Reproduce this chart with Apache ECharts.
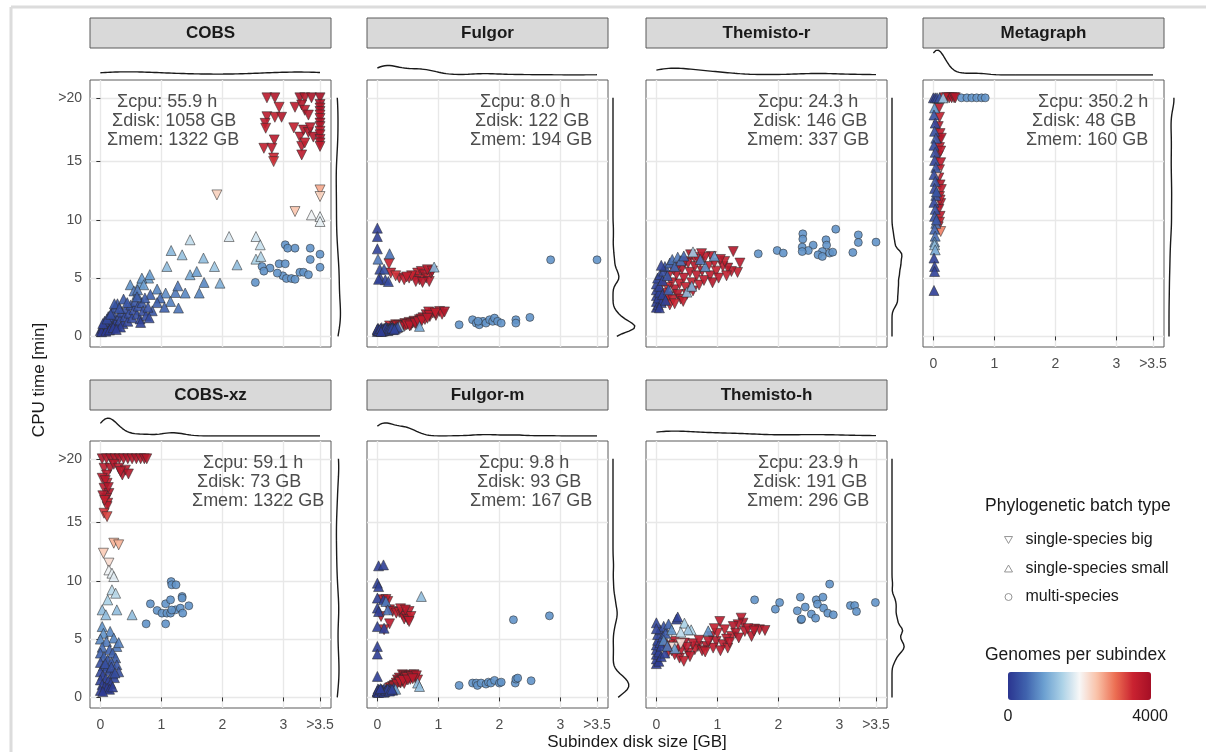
<!DOCTYPE html>
<html>
<head>
<meta charset="utf-8">
<title>Subindex disk size vs CPU time</title>
<script src="https://cdn.jsdelivr.net/npm/echarts@6.0.0/dist/echarts.min.js"></script>
<style>
  html, body { margin: 0; padding: 0; background: #fff; }
  #chart { width: 1206px; height: 752px; }
</style>
</head>
<body>
<div id="chart"></div>
<script>
// panels, in facet order
const panelNames = ['COBS', 'Fulgor', 'Themisto-r', 'Metagraph', 'COBS-xz', 'Fulgor-m', 'Themisto-h']
const cpuHours = ['55.9', '8.0', '24.3', '350.2', '59.1', '9.8', '23.9']
const diskGB = ['1058', '122', '146', '48', '73', '93', '191']
const memGB = ['1322', '194', '337', '160', '1322', '167', '296']

const shapeNames = ['single-species big', 'single-species small', 'multi-species']

const xTickValues = [0, 1, 2, 3, 3.6]
const xTickLabels = ['0', '1', '2', '3', '>3.5']
const yTickValues = [0, 5, 10, 15, 20.47]
const yTickLabels = ['0', '5', '10', '15', '>20']

// [disk GB, cpu min, genomes]
const cobsBig = [
  [2.73, 20.47, 3700], [2.86, 20.47, 3800], [3.27, 20.47, 3900], [3.35, 20.47, 3800], [3.46, 20.47, 3900], [3.6, 20.47, 4000],
  [2.93, 19.66, 3600], [2.73, 18.85, 3700], [2.86, 18.8, 3600], [2.97, 18.8, 3800], [2.70, 18.28, 3700], [2.71, 17.86, 3600],
  [2.85, 16.86, 3700], [2.68, 16.14, 3600], [2.81, 16.14, 3700], [2.84, 15.3, 3500], [2.84, 15.0, 3400],
  [3.19, 19.66, 3700], [3.30, 19.86, 3800], [3.35, 19.4, 3700], [3.41, 18.99, 3800], [3.17, 17.9, 3600], [3.27, 17.1, 3700],
  [3.33, 17.7, 3800], [3.30, 16.3, 3700], [3.35, 16.6, 3600], [3.30, 15.57, 3700], [3.41, 17.5, 3800], [3.44, 17.9, 3700],
  [3.49, 17.1, 3800], [3.6, 19.9, 3900], [3.6, 19.6, 3800], [3.6, 19.3, 3900], [3.6, 19.0, 3700], [3.6, 18.7, 3800],
  [3.6, 18.3, 3900], [3.6, 18.0, 3800], [3.6, 17.6, 3700], [3.6, 17.3, 3800], [3.6, 16.9, 3900], [3.6, 16.6, 3800],
  [3.6, 16.3, 3700], [1.91, 12.14, 2350], [3.19, 10.71, 2450], [3.6, 12.57, 2650], [3.6, 12.0, 2350]
]
const cobsSmall = [
  [3.46, 10.43, 1950], [3.6, 10.28, 1900], [3.6, 9.86, 1900], [1.47, 8.29, 1650], [2.11, 8.57, 1800], [2.55, 8.57, 1750],
  [2.62, 7.86, 1700], [2.55, 6.63, 1500], [2.63, 6.86, 1550], [2.24, 6.14, 1300], [1.69, 6.72, 1300], [1.87, 6.0, 1400],
  [1.34, 7.0, 1350], [1.16, 7.37, 1250], [1.09, 6.0, 1300], [1.47, 5.29, 1100], [1.58, 5.57, 1000], [1.96, 4.57, 1150],
  [1.70, 4.63, 800], [1.62, 3.72, 800], [1.23, 3.77, 700], [1.39, 3.72, 800], [1.27, 4.34, 700], [1.07, 3.72, 850],
  [1.15, 3.0, 750], [1.28, 2.43, 650], [0.79, 5.0, 1050], [0.65, 4.57, 1000], [0.81, 5.3, 1000], [0.68, 5.0, 950],
  [0.71, 4.43, 1000], [0.49, 4.43, 900], [0.93, 4.06, 800], [0.55, 3.9, 700], [0.60, 3.6, 650], [0.61, 4.0, 700],
  [0.82, 3.6, 500], [0.98, 3.3, 550], [0.93, 2.9, 450], [0.85, 2.2, 350], [1.05, 2.5, 500],
  [0.0, 0.5, 80], [0.03, 0.7, 100], [0.05, 0.9, 120], [0.08, 0.6, 90], [0.1, 1.0, 150], [0.12, 0.8, 110], [0.14, 1.2, 160],
  [0.16, 0.7, 100], [0.18, 1.4, 200], [0.2, 1.0, 140], [0.22, 1.6, 220], [0.25, 1.2, 170], [0.27, 0.9, 130], [0.3, 1.8, 250],
  [0.32, 1.4, 200], [0.35, 2.1, 280], [0.37, 1.1, 150], [0.4, 1.7, 230], [0.42, 2.4, 300], [0.45, 1.3, 190], [0.47, 2.0, 260],
  [0.5, 2.7, 330], [0.52, 1.6, 220], [0.55, 2.3, 290], [0.57, 3.0, 380], [0.6, 1.9, 250], [0.62, 2.6, 320], [0.65, 1.5, 200],
  [0.68, 2.9, 360], [0.7, 2.2, 280], [0.73, 3.3, 420], [0.75, 1.8, 240], [0.78, 2.5, 310], [0.8, 1.6, 230], [0.07, 1.3, 180],
  [0.13, 1.7, 230], [0.19, 2.1, 290], [0.24, 2.5, 330], [0.28, 2.8, 380], [0.33, 0.8, 110], [0.38, 3.2, 420], [0.44, 2.9, 390],
  [0.6, 3.4, 450], [0.66, 1.2, 160], [0.02, 0.4, 60], [0.09, 0.45, 70], [0.15, 0.55, 80], [0.21, 0.75, 100], [0.26, 0.6, 90],
  [0.04, 1.1, 150], [0.11, 1.5, 210], [0.17, 1.9, 260], [0.23, 2.8, 350], [0.31, 2.4, 320]
]
const cobsMulti = [
  [2.54, 4.63, 900], [2.65, 6.0, 900], [2.78, 5.86, 900], [2.68, 5.6, 900], [3.03, 7.86, 900], [3.07, 7.57, 900],
  [3.19, 7.57, 900], [2.93, 6.23, 900], [3.03, 6.23, 900], [2.99, 5.2, 900], [2.90, 5.43, 900], [3.05, 4.97, 900],
  [3.13, 4.97, 900], [3.19, 4.9, 900], [3.27, 5.5, 900], [3.33, 5.5, 900], [3.41, 5.3, 900], [3.44, 7.57, 900],
  [3.44, 6.6, 900], [3.6, 7.05, 900], [3.6, 5.93, 900]
]

const fulgorBig = [
  [0.19, 6.23, 3500], [0.22, 5.43, 3600], [0.36, 5.0, 3700], [0.44, 4.86, 3600], [0.52, 5.0, 3700], [0.61, 5.14, 3800],
  [0.66, 5.43, 3600], [0.72, 5.57, 3700], [0.77, 5.29, 3800], [0.80, 5.0, 3600], [0.85, 4.71, 3700], [0.88, 5.43, 3800],
  [0.82, 5.71, 3700], [0.69, 4.86, 3600], [0.63, 4.71, 3700], [0.74, 4.63, 3800], [0.56, 5.2, 3500], [0.48, 5.1, 3600],
  [0.3, 5.2, 3400], [0.9, 5.6, 3700],
  [0.2, 0.9, 3500], [0.3, 1.0, 3600], [0.36, 0.86, 3700], [0.45, 1.1, 3600], [0.52, 1.2, 3700], [0.6, 1.3, 3800],
  [0.69, 1.43, 3600], [0.75, 1.6, 3700], [0.8, 1.86, 3800], [0.86, 1.7, 3600], [0.91, 2.0, 3700], [0.96, 1.8, 3800],
  [1.02, 2.14, 3700], [1.06, 1.9, 3600], [1.1, 2.1, 3800], [0.65, 1.0, 3500], [0.4, 0.75, 3600], [0.25, 0.65, 3400],
  [0.55, 0.95, 3500], [0.84, 2.1, 3700], [0.3, 0.8, 3600], [0.42, 0.95, 3700], [0.5, 1.05, 3600], [0.58, 1.15, 3700],
  [0.7, 1.3, 3800], [0.78, 1.45, 3700], [0.35, 0.95, 3600], [0.45, 0.9, 3700], [0.55, 1.1, 3600], [0.62, 1.2, 3700],
  [0.72, 1.5, 3800], [0.85, 1.8, 3700], [0.95, 2.0, 3600], [0.28, 0.85, 3500], [0.32, 0.9, 3600], [0.38, 0.8, 3700],
  [0.48, 1.0, 3600], [0.53, 0.9, 3700], [0.62, 1.1, 3800], [0.67, 1.25, 3700], [0.73, 1.35, 3600], [0.82, 1.55, 3700]
]
const fulgorSmall = [
  [0.0, 9.29, 100], [0.0, 8.57, 120], [0.0, 7.51, 150], [0.01, 6.63, 700], [0.2, 7.09, 650], [0.04, 5.77, 200],
  [0.11, 5.77, 300], [0.05, 5.0, 180], [0.13, 4.86, 200], [0.18, 4.71, 220], [0.93, 5.95, 1250], [0.02, 4.9, 150],
  [0.0, 0.43, 80], [0.05, 0.5, 100], [0.1, 0.6, 120], [0.16, 0.72, 150], [0.22, 0.8, 180], [0.27, 0.72, 160],
  [0.02, 0.6, 90], [0.08, 0.45, 90], [0.36, 0.86, 1400], [0.69, 0.86, 1100], [0.13, 0.55, 110], [0.04, 0.55, 90],
  [0.12, 0.65, 100], [0.19, 0.7, 120], [0.25, 0.78, 140], [0.0, 0.55, 70], [0.03, 0.48, 80], [0.06, 0.62, 90],
  [0.09, 0.52, 100], [0.11, 0.7, 110], [0.14, 0.6, 120], [0.17, 0.5, 130], [0.2, 0.62, 140], [0.23, 0.68, 150],
  [0.26, 0.58, 160], [0.01, 0.7, 80], [0.07, 0.75, 100], [0.15, 0.78, 130], [0.3, 0.7, 200], [0.33, 0.8, 250],
  [0.0, 0.62, 70], [0.02, 0.5, 80], [0.05, 0.68, 90], [0.08, 0.58, 100], [0.1, 0.48, 110], [0.13, 0.72, 120],
  [0.16, 0.6, 130], [0.18, 0.55, 140], [0.21, 0.66, 150], [0.24, 0.72, 160], [0.28, 0.62, 170], [0.06, 0.42, 80]
]
const fulgorMulti = [
  [1.34, 1.0, 900], [1.56, 1.43, 900], [1.62, 1.14, 900], [1.67, 1.0, 900], [1.73, 1.29, 900], [1.78, 1.14, 900],
  [1.84, 1.43, 900], [1.89, 1.29, 900], [1.92, 1.57, 900], [1.97, 1.29, 900], [2.03, 1.14, 900], [2.27, 1.43, 900],
  [2.27, 1.14, 900], [2.50, 1.63, 900], [2.84, 6.57, 900], [3.6, 6.57, 900], [1.65, 1.3, 900]
]

const themistoRBig = [
  [0.9, 6.86, 3700], [1.26, 7.28, 3800], [1.37, 6.29, 3700], [1.33, 5.49, 3600], [1.23, 5.57, 3700], [1.17, 5.86, 3800],
  [1.09, 6.0, 3700], [1.12, 6.43, 3600], [0.15, 3.0, 3600], [0.2, 3.4, 3700], [0.22, 2.7, 3500], [0.27, 3.14, 3600],
  [0.3, 4.0, 3700], [0.35, 3.6, 3800], [0.38, 4.5, 3600], [0.4, 3.2, 3700], [0.45, 5.0, 3700], [0.48, 4.2, 3600],
  [0.5, 3.6, 3800], [0.55, 5.5, 3700], [0.58, 4.6, 3600], [0.6, 3.9, 3700], [0.63, 6.0, 3800], [0.66, 5.2, 3700],
  [0.7, 4.4, 3600], [0.72, 6.4, 3700], [0.75, 5.6, 3800], [0.78, 4.8, 3700], [0.8, 6.8, 3700], [0.85, 6.0, 3600],
  [0.88, 5.2, 3700], [0.92, 4.6, 3800], [0.95, 6.3, 3700], [0.98, 5.6, 3600], [1.02, 5.0, 3700], [1.05, 6.6, 3800],
  [0.25, 4.6, 3600], [0.18, 4.2, 3500], [0.12, 3.7, 3600], [0.33, 5.3, 3700], [0.42, 5.8, 3800], [0.52, 6.3, 3700],
  [0.62, 6.8, 3600], [0.68, 6.6, 3700], [0.1, 4.6, 3500], [0.2, 5.2, 3600], [0.28, 5.7, 3700], [0.36, 6.1, 3800],
  [0.46, 6.4, 3700], [0.56, 7.0, 3800], [0.74, 7.1, 3700], [1.15, 5.2, 3600], [0.3, 2.8, 3500], [0.44, 3.0, 3600]
]
const themistoRSmall = [
  [0.0, 2.5, 80], [0.0, 3.0, 100], [0.0, 3.5, 120], [0.0, 4.0, 150], [0.0, 4.5, 170], [0.02, 5.0, 200], [0.03, 2.7, 90],
  [0.03, 3.3, 110], [0.05, 3.8, 130], [0.05, 4.3, 160], [0.06, 5.3, 220], [0.08, 2.9, 100], [0.1, 3.6, 130], [0.1, 4.8, 190],
  [0.12, 5.6, 260], [0.14, 6.0, 300], [0.18, 5.2, 400], [0.22, 6.3, 500], [0.26, 6.6, 600], [0.3, 6.0, 550], [0.35, 6.8, 700],
  [0.4, 6.5, 650], [0.45, 6.9, 500], [0.6, 7.25, 1450], [0.5, 3.8, 1300], [0.58, 4.3, 1200], [0.8, 6.0, 900], [0.72, 6.6, 700],
  [0.05, 2.45, 90], [0.15, 3.1, 140], [0.2, 4.0, 500], [0.08, 6.1, 150], [0.95, 6.9, 1000]
]
const themistoRMulti = [
  [1.67, 7.09, 900], [1.98, 7.37, 900], [2.08, 7.15, 900], [2.40, 8.80, 900], [2.40, 8.35, 900], [2.57, 7.83, 900],
  [2.39, 7.66, 900], [2.49, 7.37, 900], [2.39, 7.28, 900], [2.78, 8.29, 900], [2.79, 7.83, 900], [2.72, 7.28, 900],
  [2.65, 7.0, 900], [2.72, 6.86, 900], [2.84, 7.15, 900], [2.89, 7.23, 900], [2.94, 9.2, 900], [3.22, 7.2, 900],
  [3.31, 8.71, 900], [3.31, 8.06, 900], [3.6, 8.09, 900]
]

const metagraphBig = [
  [0.22, 20.47, 3700], [0.26, 20.47, 3800], [0.3, 20.47, 3900], [0.34, 20.47, 3700], [0.36, 20.47, 3800], [0.18, 20.47, 3600],
  [0.09, 19.57, 3700], [0.1, 18.8, 3600], [0.08, 18.0, 3800], [0.11, 17.4, 3700], [0.09, 16.8, 3600], [0.1, 16.2, 3700],
  [0.08, 15.5, 3800], [0.12, 14.9, 3700], [0.1, 14.3, 3600], [0.09, 13.6, 3700], [0.11, 13.0, 3800], [0.13, 12.6, 3700],
  [0.1, 12.0, 3600], [0.12, 11.4, 3700], [0.09, 10.9, 3800], [0.11, 10.3, 3700], [0.1, 9.8, 3600], [0.08, 9.4, 3500],
  [0.12, 9.0, 2900], [0.06, 13.86, 2300], [0.12, 15.9, 3700], [0.13, 17.0, 3800], [0.11, 11.7, 3600]
]
const metagraphSmall = [
  [0.0, 20.47, 100], [0.03, 20.47, 150], [0.06, 20.47, 200], [0.1, 20.47, 300], [0.16, 20.47, 1400],
  [0.02, 19.6, 900], [0.01, 19.0, 300], [0.03, 18.3, 200], [0.02, 17.6, 250], [0.04, 17.0, 400], [0.01, 16.4, 200],
  [0.03, 15.8, 300], [0.02, 15.1, 150], [0.04, 14.5, 350], [0.01, 13.9, 250], [0.03, 13.3, 300], [0.02, 12.7, 200],
  [0.04, 12.1, 400], [0.01, 11.5, 180], [0.03, 10.9, 300], [0.02, 10.3, 250], [0.04, 9.7, 700], [0.02, 9.2, 500],
  [0.03, 8.6, 600], [0.02, 8.1, 900], [0.02, 7.86, 1300], [0.03, 7.43, 1100], [0.01, 6.72, 150], [0.02, 6.0, 120],
  [0.02, 5.57, 130], [0.01, 3.94, 100], [0.05, 10.0, 400], [0.05, 12.4, 350]
]
const metagraphMulti = [
  [0.46, 20.47, 900], [0.55, 20.47, 900], [0.63, 20.47, 900], [0.71, 20.47, 900], [0.79, 20.47, 900], [0.85, 20.47, 900]
]

const cobsXzBig = [
  [0.03, 20.47, 3900], [0.1, 20.47, 3800], [0.17, 20.47, 3900], [0.24, 20.47, 3800], [0.31, 20.47, 3900], [0.38, 20.47, 3800],
  [0.45, 20.47, 3900], [0.52, 20.47, 3800], [0.59, 20.47, 3900], [0.66, 20.47, 3800], [0.72, 20.47, 3900], [0.76, 20.47, 3800],
  [0.06, 19.66, 3700], [0.16, 19.66, 3800], [0.1, 19.08, 3700], [0.22, 20.0, 3800], [0.03, 18.8, 3700], [0.11, 18.37, 3600],
  [0.06, 17.94, 3700], [0.14, 17.5, 3800], [0.1, 17.08, 3700], [0.12, 16.66, 3600], [0.11, 16.37, 3700], [0.06, 15.8, 3400],
  [0.11, 15.51, 3300], [0.30, 19.66, 3700], [0.36, 19.08, 3800], [0.41, 19.5, 3700], [0.46, 19.17, 3800], [0.33, 19.37, 3700],
  [0.04, 17.3, 3800], [0.08, 18.6, 3700], [0.13, 18.0, 3800], [0.07, 16.9, 3600],
  [0.05, 12.37, 2400], [0.22, 13.23, 2600], [0.30, 13.09, 2600], [0.14, 11.52, 2250]
]
const cobsXzSmall = [
  [0.14, 10.94, 1950], [0.19, 10.66, 1900], [0.22, 10.37, 1850], [0.19, 9.23, 1600], [0.25, 8.94, 1600], [0.12, 8.37, 1500],
  [0.03, 7.51, 1300], [0.09, 7.09, 1300], [0.27, 7.51, 1300], [0.52, 7.09, 1300],
  [0.03, 6.08, 900], [0.16, 5.66, 800], [0.22, 5.09, 800], [0.27, 4.37, 700], [0.3, 4.7, 750], [0.05, 5.5, 900],
  [0.0, 5.0, 800], [0.1, 4.8, 700], [0.03, 4.3, 600], [0.15, 4.1, 500], [0.2, 3.8, 500], [0.25, 3.4, 450], [0.0, 3.8, 500],
  [0.06, 3.5, 450], [0.12, 3.2, 400], [0.18, 3.0, 400], [0.27, 2.8, 350], [0.3, 2.2, 300], [0.0, 3.0, 300], [0.05, 2.7, 280],
  [0.1, 2.5, 260], [0.15, 2.3, 250], [0.2, 2.0, 220], [0.23, 1.7, 200], [0.0, 2.2, 200], [0.04, 1.9, 180], [0.09, 1.6, 150],
  [0.13, 1.4, 140], [0.17, 1.2, 120], [0.0, 1.5, 130], [0.03, 1.1, 110], [0.07, 0.9, 90], [0.11, 0.8, 90], [0.15, 0.7, 80],
  [0.0, 0.6, 70], [0.04, 0.5, 60], [0.2, 0.9, 100], [0.08, 2.9, 300], [0.18, 2.6, 300], [0.24, 2.1, 260]
]
const cobsXzMulti = [
  [0.75, 6.31, 900], [0.82, 8.03, 900], [0.93, 7.46, 900], [1.01, 7.23, 900], [1.07, 8.03, 900], [1.09, 7.23, 900],
  [1.15, 7.23, 900], [1.15, 8.37, 900], [1.16, 9.94, 900], [1.17, 9.66, 900], [1.23, 7.51, 900], [1.24, 9.66, 900],
  [1.31, 7.66, 900], [1.34, 8.66, 900], [1.34, 8.52, 900], [1.35, 7.23, 900], [1.45, 7.86, 900], [1.07, 6.31, 900],
  [1.17, 7.5, 900]
]

const fulgorMBig = [
  [0.09, 8.37, 3700], [0.17, 8.23, 3600], [0.2, 7.51, 3700], [0.25, 7.37, 3800], [0.31, 7.23, 3700], [0.36, 7.29, 3600],
  [0.41, 7.09, 3700], [0.44, 6.72, 3800], [0.47, 6.94, 3700], [0.50, 6.66, 3800], [0.52, 7.37, 3700], [0.55, 6.94, 3600],
  [0.52, 6.51, 3700], [0.06, 6.94, 3600], [0.2, 6.31, 3700], [0.11, 5.8, 3500], [0.14, 8.4, 3700], [0.38, 7.6, 3600],
  [0.46, 7.5, 3800],
  [0.25, 0.94, 3500], [0.31, 1.23, 3600], [0.36, 1.66, 3700], [0.41, 1.94, 3800], [0.44, 1.86, 3700], [0.47, 1.8, 3600],
  [0.5, 1.66, 3700], [0.52, 1.8, 3800], [0.55, 1.9, 3700], [0.58, 1.8, 3600], [0.62, 1.66, 3700], [0.41, 1.37, 3600],
  [0.38, 1.23, 3700], [0.47, 1.52, 3800], [0.66, 1.5, 3600], [0.2, 0.8, 3500], [0.33, 1.5, 3700], [0.6, 1.95, 3800],
  [0.28, 1.05, 3600], [0.35, 1.35, 3700], [0.45, 1.65, 3800], [0.54, 1.55, 3700], [0.3, 1.0, 3600], [0.4, 1.5, 3700],
  [0.48, 1.7, 3600], [0.56, 1.75, 3700], [0.64, 1.85, 3800], [0.44, 1.2, 3600], [0.22, 0.85, 3500], [0.27, 0.95, 3600],
  [0.32, 1.1, 3700], [0.37, 1.3, 3600], [0.42, 1.45, 3700], [0.5, 1.5, 3800], [0.58, 1.6, 3700], [0.26, 0.8, 3600]
]
const fulgorMSmall = [
  [0.02, 11.29, 100], [0.1, 11.37, 120], [0.0, 9.8, 100], [0.02, 9.51, 110], [0.0, 8.52, 100], [0.1, 8.37, 130],
  [0.0, 7.66, 110], [0.02, 7.37, 100], [0.0, 6.08, 100], [0.11, 5.94, 150], [0.14, 8.23, 700], [0.17, 7.51, 650],
  [0.72, 8.66, 1300], [0.0, 4.37, 100], [0.0, 3.72, 100], [0.0, 1.8, 100],
  [0.0, 0.5, 60], [0.05, 0.55, 80], [0.1, 0.6, 90], [0.15, 0.7, 110], [0.2, 0.75, 130], [0.27, 0.8, 150], [0.02, 0.65, 70],
  [0.08, 0.5, 80], [0.66, 1.23, 1300], [0.69, 0.94, 1300], [0.3, 0.7, 1100], [0.04, 0.6, 70], [0.12, 0.52, 90],
  [0.18, 0.62, 100], [0.0, 0.45, 60], [0.03, 0.58, 70], [0.06, 0.48, 80], [0.09, 0.62, 90], [0.13, 0.55, 100],
  [0.16, 0.65, 110], [0.19, 0.58, 120], [0.22, 0.7, 130], [0.25, 0.62, 140], [0.01, 0.72, 70], [0.07, 0.7, 90],
  [0.11, 0.75, 100], [0.0, 0.55, 60], [0.02, 0.42, 70], [0.05, 0.65, 80], [0.08, 0.55, 90], [0.11, 0.45, 100],
  [0.14, 0.6, 110], [0.17, 0.72, 120], [0.2, 0.55, 130], [0.24, 0.7, 140], [0.05, 0.75, 80]
]
const fulgorMMulti = [
  [1.34, 1.03, 900], [1.56, 1.23, 900], [1.62, 1.23, 900], [1.64, 1.03, 900], [1.70, 1.23, 900], [1.78, 1.14, 900],
  [1.82, 1.31, 900], [1.86, 1.23, 900], [1.92, 1.46, 900], [2.0, 1.23, 900], [2.03, 1.31, 900], [2.26, 1.23, 900],
  [2.27, 1.57, 900], [2.3, 1.66, 900], [2.52, 1.43, 900], [2.23, 6.66, 900], [2.82, 7.0, 900]
]

const themistoHBig = [
  [1.39, 6.8, 3700], [1.42, 6.37, 3800], [1.34, 6.23, 3700], [1.61, 5.86, 3600], [1.69, 5.8, 3700], [1.78, 5.74, 3800],
  [1.56, 5.23, 3700], [1.23, 5.23, 3600], [1.45, 5.66, 3700], [1.26, 6.08, 3800], [1.04, 6.51, 3700], [1.12, 5.8, 3600],
  [0.9, 5.23, 3700], [0.98, 4.8, 3800], [1.09, 4.52, 3700], [1.17, 4.23, 3600], [0.93, 4.23, 3700], [0.82, 4.37, 3800],
  [0.68, 4.37, 3700], [0.63, 4.09, 3600], [0.52, 3.8, 3700], [0.38, 3.37, 3800], [0.3, 3.66, 3700], [0.19, 3.8, 3600],
  [0.41, 4.09, 3700], [0.46, 4.66, 3800], [0.3, 4.8, 3700], [0.22, 4.52, 3600], [0.14, 4.37, 3500], [0.6, 4.6, 3700],
  [0.75, 4.0, 3800], [0.55, 3.5, 3700], [0.45, 3.1, 3600], [0.35, 4.3, 3700], [0.25, 4.0, 3800], [0.85, 4.8, 3700],
  [1.0, 5.5, 3600], [1.15, 5.0, 3700], [1.3, 5.5, 3800], [1.2, 4.7, 3700], [0.95, 5.9, 3600], [0.7, 4.9, 3700],
  [1.5, 5.9, 3800], [1.05, 4.0, 3700], [0.8, 3.9, 3600], [0.5, 4.3, 3700], [1.35, 5.1, 3800], [1.6, 5.7, 3700],
  [0.28, 4.3, 2100], [0.4, 4.6, 2200], [0.2, 5.2, 2000]
]
const themistoHSmall = [
  [0.0, 2.9, 80], [0.0, 3.3, 100], [0.0, 3.7, 110], [0.0, 4.1, 130], [0.0, 4.5, 150], [0.02, 4.9, 170], [0.02, 5.4, 200],
  [0.04, 3.1, 90], [0.04, 3.9, 120], [0.06, 4.7, 160], [0.06, 5.8, 250], [0.08, 3.5, 110], [0.08, 4.4, 140], [0.1, 5.2, 200],
  [0.12, 6.1, 300], [0.14, 3.8, 150], [0.15, 5.5, 400], [0.2, 6.3, 500], [0.33, 6.72, 200], [0.35, 6.9, 150],
  [0.46, 6.37, 1500], [0.57, 5.8, 1500], [0.52, 5.8, 1400], [0.85, 5.71, 900], [0.25, 5.8, 900], [0.12, 4.9, 800],
  [0.3, 4.2, 1000], [0.0, 6.4, 200], [0.18, 4.4, 700], [0.4, 5.6, 1600], [0.0, 5.9, 150]
]
const themistoHMulti = [
  [1.61, 8.37, 900], [1.95, 7.57, 900], [2.02, 8.14, 900], [2.31, 7.43, 900], [2.36, 8.6, 900], [2.37, 6.66, 900],
  [2.44, 7.75, 900], [2.38, 6.72, 900], [2.54, 7.15, 900], [2.61, 6.8, 900], [2.62, 8.37, 900], [2.64, 8.0, 900],
  [2.73, 8.6, 900], [2.74, 7.66, 900], [2.81, 7.23, 900], [2.84, 9.72, 900], [2.9, 7.09, 900], [3.18, 7.88, 900],
  [3.25, 7.88, 900], [3.28, 7.37, 900], [3.59, 8.14, 900]
]

const panelData = [
  [cobsBig, cobsSmall, cobsMulti],
  [fulgorBig, fulgorSmall, fulgorMulti],
  [themistoRBig, themistoRSmall, themistoRMulti],
  [metagraphBig, metagraphSmall, metagraphMulti],
  [cobsXzBig, cobsXzSmall, cobsXzMulti],
  [fulgorMBig, fulgorMSmall, fulgorMMulti],
  [themistoHBig, themistoHSmall, themistoHMulti]
]

const FONT = '"Liberation Sans", Arial, sans-serif'
const X_MIN = -0.17
const X_MAX = 3.78
const Y_MIN = -0.91
const Y_MAX = 22.0

// layout (px)
const colLeft = [90, 367, 646, 923]
const rowTop = [80, 441]
const stripTop = [18, 380]
const PW = 241
const PH = 267
const panelCell = [[0, 0], [0, 1], [0, 2], [0, 3], [1, 0], [1, 1], [1, 2]]
const annoLeft = [[117, 112, 107], [480, 475, 470], [758, 753, 747], [1038, 1032, 1026], [203, 197, 192], [479, 477, 470], [758, 753, 747]]
const annoDy = [22, 41, 60]

// gaussian kde over [lo, hi], bandwidth like R's nrd0 (with a floor)
function kde (values, lo, hi, adjust, minBw, n = 180) {
  const m = values.length
  const mean = values.reduce((a, b) => a + b, 0) / m
  const sd = Math.sqrt(values.reduce((a, b) => a + (b - mean) ** 2, 0) / (m - 1))
  const s = values.slice().sort((a, b) => a - b)
  const q = p => {
    const h = (m - 1) * p
    const k = Math.floor(h)
    return s[k] + (h - k) * (s[Math.min(k + 1, m - 1)] - s[k])
  }
  let spread = Math.min(sd, (q(0.75) - q(0.25)) / 1.34)
  if (!(spread > 0)) spread = sd
  const bw = Math.max(0.9 * spread * Math.pow(m, -0.2) * adjust, minBw)
  const out = []
  for (let i = 0; i < n; i++) {
    const t = lo + (hi - lo) * i / (n - 1)
    let d = 0
    values.forEach(v => {
      const z = (t - v) / bw
      d += Math.exp(-0.5 * z * z)
    })
    out.push([t, d / (m * bw * Math.sqrt(2 * Math.PI))])
  }
  return out
}

const tickLabel = (values, labels) => v => {
  const i = values.findIndex(t => Math.abs(t - v) < 1e-6)
  return i >= 0 ? labels[i] : ''
}

const densTop = []
const densRight = []
panelData.forEach(groups => {
  const pts = [].concat(...groups)
  densTop.push(kde(pts.map(p => p[0]), 0, 3.6, 1, 0.12))
  // right side: density on the horizontal, cpu time on the vertical
  densRight.push(kde(pts.map(p => p[1]), 0, 20.47, 0.5, 0.3).map(d => [d[1], d[0]]))
})
const topMax = Math.max(...densTop.flat().map(d => d[1]))
const rightMax = Math.max(...densRight.flat().map(d => d[0]))

const grids = []
const xAxes = []
const yAxes = []
const series = []
const graphics = []
const scatterIdx = []

const hiddenAxis = (g, min, max) => ({
  gridIndex: g, type: 'value', min, max, show: false,
  splitLine: { show: false }, axisLabel: { show: false }, axisTick: { show: false }, axisLine: { show: false }
})

panelNames.forEach((name, i) => {
  const [r, c] = panelCell[i]
  const left = colLeft[c]
  const top = rowTop[r]
  const showX = r === 1 || c === 3
  const showY = c === 0
  const g = grids.length

  // main panel
  grids.push({
    left, top, width: PW, height: PH, show: true,
    backgroundColor: '#fff', borderColor: '#5a5a5a', borderWidth: 1
  })
  xAxes.push({
    gridIndex: g, type: 'value', min: X_MIN, max: X_MAX,
    axisLine: { show: false },
    axisTick: { show: showX, length: 4, customValues: xTickValues, lineStyle: { color: '#333' } },
    axisLabel: {
      show: showX, customValues: xTickValues, formatter: tickLabel(xTickValues, xTickLabels),
      color: '#4d4d4d', fontSize: 14, fontFamily: FONT, margin: 10
    },
    splitLine: { show: true, lineStyle: { color: '#e8e8e8', width: 1.4 } }
  })
  yAxes.push({
    gridIndex: g, type: 'value', min: Y_MIN, max: Y_MAX,
    axisLine: { show: false },
    axisTick: { show: showY, length: 4, customValues: yTickValues, lineStyle: { color: '#333' } },
    axisLabel: {
      show: showY, customValues: yTickValues, formatter: tickLabel(yTickValues, yTickLabels),
      color: '#4d4d4d', fontSize: 14, fontFamily: FONT, margin: 8
    },
    splitLine: { show: true, lineStyle: { color: '#e8e8e8', width: 1.4 } }
  })

  // top (x) density
  grids.push({ left, top: top - 30, width: PW, height: 25 })
  xAxes.push(hiddenAxis(g + 1, X_MIN, X_MAX))
  yAxes.push(hiddenAxis(g + 1, 0, topMax))

  // right (y) density
  grids.push({ left: left + PW + 5, top, width: 22, height: PH })
  xAxes.push(hiddenAxis(g + 2, 0, rightMax))
  yAxes.push(hiddenAxis(g + 2, Y_MIN, Y_MAX))

  panelData[i].forEach((data, k) => {
    scatterIdx.push(series.length)
    series.push({
      type: 'scatter',
      name: shapeNames[k],
      xAxisIndex: g,
      yAxisIndex: g,
      data,
      symbol: k === 2 ? 'circle' : 'triangle',
      symbolRotate: k === 0 ? 180 : 0,
      symbolSize: k === 2 ? 8 : 10,
      itemStyle: { borderColor: '#2a2a2a', borderWidth: 0.6, opacity: 0.9 },
      emphasis: { disabled: true },
      z: 3
    })
  })

  series.push({
    type: 'line', xAxisIndex: g + 1, yAxisIndex: g + 1, data: densTop[i],
    symbol: 'none', silent: true, lineStyle: { color: '#1a1a1a', width: 1.4 }
  })
  series.push({
    type: 'line', xAxisIndex: g + 2, yAxisIndex: g + 2, data: densRight[i],
    symbol: 'none', silent: true, lineStyle: { color: '#1a1a1a', width: 1.4 }
  })

  // facet strip
  graphics.push({
    type: 'rect', shape: { x: left, y: stripTop[r], width: PW, height: 30 },
    style: { fill: '#d9d9d9', stroke: '#5a5a5a', lineWidth: 1 }
  })
  graphics.push({
    type: 'text', x: left + PW / 2, y: stripTop[r] + 15,
    style: {
      text: name, fill: '#1a1a1a', font: 'bold 17px ' + FONT,
      textAlign: 'center', textVerticalAlign: 'middle'
    }
  })

  // totals
  const lines = ['Σcpu: ' + cpuHours[i] + ' h', 'Σdisk: ' + diskGB[i] + ' GB', 'Σmem: ' + memGB[i] + ' GB']
  lines.forEach((t, j) => {
    graphics.push({
      type: 'text', x: annoLeft[i][j], y: top + annoDy[j], z: 10,
      style: {
        text: t, fill: '#4d4d4d', font: '18px ' + FONT,
        textAlign: 'left', textVerticalAlign: 'middle'
      }
    })
  })
})

// axis titles
graphics.push({
  type: 'text', x: 637, y: 742,
  style: { text: 'Subindex disk size [GB]', fill: '#1a1a1a', font: '17px ' + FONT, textAlign: 'center', textVerticalAlign: 'middle' }
})
graphics.push({
  type: 'text', x: 39, y: 380, rotation: Math.PI / 2,
  style: { text: 'CPU time [min]', fill: '#1a1a1a', font: '17px ' + FONT, textAlign: 'center', textVerticalAlign: 'middle' }
})

// legend titles and colour bar labels
graphics.push({
  type: 'text', x: 985, y: 506,
  style: { text: 'Phylogenetic batch type', fill: '#1a1a1a', font: '17.5px ' + FONT, textAlign: 'left', textVerticalAlign: 'middle' }
})
graphics.push({
  type: 'text', x: 985, y: 655,
  style: { text: 'Genomes per subindex', fill: '#1a1a1a', font: '17.5px ' + FONT, textAlign: 'left', textVerticalAlign: 'middle' }
})
graphics.push({
  type: 'text', x: 1008, y: 717,
  style: { text: '0', fill: '#1a1a1a', font: '16px ' + FONT, textAlign: 'center', textVerticalAlign: 'middle' }
})
graphics.push({
  type: 'text', x: 1150, y: 717,
  style: { text: '4000', fill: '#1a1a1a', font: '16px ' + FONT, textAlign: 'center', textVerticalAlign: 'middle' }
})

// outer frame
graphics.push({ type: 'line', shape: { x1: 11, y1: 7, x2: 1206, y2: 7 }, style: { stroke: '#dcdcdc', lineWidth: 3 } })
graphics.push({ type: 'line', shape: { x1: 11, y1: 7, x2: 11, y2: 752 }, style: { stroke: '#dcdcdc', lineWidth: 3 } })

const chart = echarts.init(document.getElementById('chart'))
chart.setOption({
  animation: false,
  backgroundColor: '#fff',
  textStyle: { fontFamily: FONT },
  grid: grids,
  xAxis: xAxes,
  yAxis: yAxes,
  visualMap: {
    type: 'continuous',
    min: 0,
    max: 4000,
    dimension: 2,
    seriesIndex: scatterIdx,
    orient: 'horizontal',
    left: 1008,
    top: 672,
    padding: 0,
    itemWidth: 28,
    itemHeight: 143,
    calculable: false,
    hoverLink: false,
    inRange: {
      color: ['#2b3590', '#3f62ad', '#6b9fd0', '#a9d0e6', '#f7f7f7', '#f9c0a6', '#ec6f53', '#c92230', '#a50f26']
    }
  },
  legend: {
    orient: 'vertical',
    left: 999,
    top: 527,
    itemWidth: 8,
    itemHeight: 7,
    itemGap: 12.5,
    selectedMode: false,
    textStyle: { fontSize: 16, color: '#1a1a1a', fontFamily: FONT, padding: [0, 0, 0, 8] },
    data: [
      { name: shapeNames[0], icon: 'path://M0,0L10,0L5,8.66Z', itemStyle: { color: 'rgba(0,0,0,0)', borderColor: '#8a8a8a', borderWidth: 1 } },
      { name: shapeNames[1], icon: 'path://M5,0L10,8.66L0,8.66Z', itemStyle: { color: 'rgba(0,0,0,0)', borderColor: '#8a8a8a', borderWidth: 1 } },
      { name: shapeNames[2], icon: 'circle', itemStyle: { color: 'rgba(0,0,0,0)', borderColor: '#8a8a8a', borderWidth: 1 } }
    ]
  },
  graphic: graphics,
  series
})
</script>
</body>
</html>
